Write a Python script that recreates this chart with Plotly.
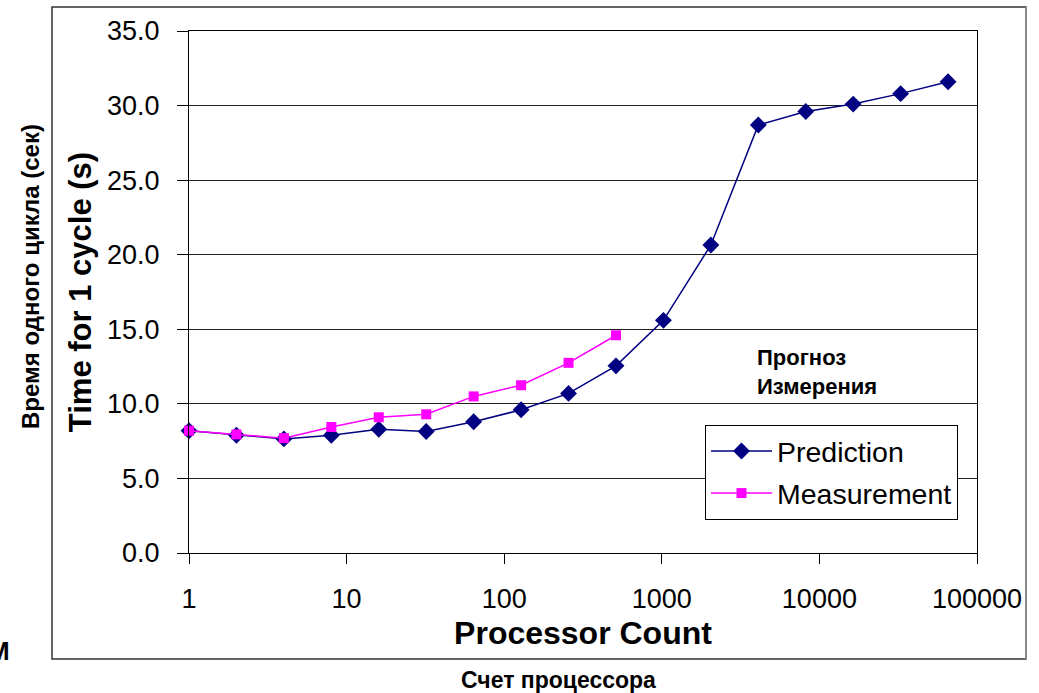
import plotly.graph_objects as go

# ---- data ----
processors = [1, 2, 4, 8, 16, 32, 64, 128, 256, 512, 1024, 2048, 4096, 8192, 16384, 32768, 65536]
prediction = [8.2, 7.9, 7.65, 7.9, 8.3, 8.15, 8.8, 9.6, 10.7, 12.55, 15.6, 20.65, 28.7, 29.6, 30.1, 30.8, 31.6]
meas_processors = [1, 2, 4, 8, 16, 32, 64, 128, 256, 512]
measurement = [8.2, 7.95, 7.7, 8.45, 9.1, 9.3, 10.5, 11.25, 12.75, 14.6]
x_tick_vals = [1, 10, 100, 1000, 10000, 100000]
x_tick_text = ["1", "10", "100", "1000", "10000", "100000"]
y_tick_vals = [0, 5, 10, 15, 20, 25, 30, 35]

FONT = "Arial, Liberation Sans, sans-serif"

fig = go.Figure()
fig.add_trace(go.Scatter(
    x=processors, y=prediction, name="Prediction", mode="lines+markers",
    legendgroup="pred",
    line=dict(color="#000080", width=1.5),
    marker=dict(symbol="diamond", size=13, color="#000080"),
    cliponaxis=False,
))
fig.add_trace(go.Scatter(
    x=meas_processors, y=measurement, name="Measurement", mode="lines+markers",
    legendgroup="meas",
    line=dict(color="#FF00FF", width=1.5),
    marker=dict(symbol="square", size=10, color="#FF00FF"),
    cliponaxis=False,
))

def xp(px):
    return (px - 189) / 788

def yp(py):
    return (553 - py) / 522

fig.update_layout(
    width=1039, height=693,
    margin=dict(l=189, r=62, t=31, b=140),
    paper_bgcolor="white", plot_bgcolor="white",
    font=dict(family=FONT, color="black"),
    showlegend=True,
    legend=dict(
        x=xp(705), y=yp(425), xanchor="left", yanchor="top",
        bgcolor="white", bordercolor="black", borderwidth=1,
        font=dict(size=28.5, family=FONT, color="black"),
        itemwidth=61, tracegroupgap=2,
    ),
    xaxis=dict(
        type="log", range=[0, 5],
        tickvals=x_tick_vals, ticktext=x_tick_text,
        ticks="outside", ticklen=10, tickcolor="black", tickwidth=1,
        tickfont=dict(size=27, family=FONT, color="black"),
        showline=True, linecolor="black", linewidth=1, mirror=True,
        showgrid=False, zeroline=False,
        ticklabelstandoff=12,
        title=dict(text="Processor Count", font=dict(size=32, family=FONT, weight="bold", color="black"), standoff=8),
    ),
    yaxis=dict(
        range=[0, 35], tickvals=y_tick_vals, tickformat=".1f",
        ticks="outside", ticklen=11, tickcolor="black", tickwidth=1,
        tickfont=dict(size=27, family=FONT, color="black"),
        showline=True, linecolor="black", linewidth=1, mirror=True,
        showgrid=True, gridcolor="#222222", gridwidth=1, zeroline=False,
        ticklabelstandoff=12,
        title=dict(text="Time for 1 cycle (s)", font=dict(size=31, family=FONT, weight="bold", color="black"), standoff=6),
    ),
    shapes=[
        dict(type="rect", xref="paper", yref="paper",
             x0=xp(52), x1=xp(1026), y0=yp(659), y1=yp(7),
             line=dict(color="#333333", width=1.5), layer="below"),
        dict(type="line", xref="paper", yref="paper",
             x0=xp(1026), x1=xp(1026), y0=yp(659), y1=yp(7),
             line=dict(color="#999999", width=1.5)),
    ],
    annotations=[
        dict(text="Время одного цикла (сек)", xref="paper", yref="paper",
             x=xp(30), y=yp(277), xanchor="center", yanchor="middle", textangle=-90,
             showarrow=False, font=dict(size=24, family=FONT, weight="bold", color="black")),
        dict(text="Счет процессора", xref="paper", yref="paper",
             x=xp(558), y=yp(680), xanchor="center", yanchor="middle",
             showarrow=False, font=dict(size=23, family=FONT, weight="bold", color="black")),
        dict(text="Прогноз<br>Измерения", xref="paper", yref="paper",
             x=xp(755), y=yp(372), xanchor="left", yanchor="middle", align="left",
             showarrow=False, font=dict(size=22, family=FONT, weight="bold", color="black")),
        dict(text="М", xref="paper", yref="paper",
             x=xp(12), y=yp(651), xanchor="right", yanchor="middle",
             showarrow=False, font=dict(size=26, family=FONT, weight="bold", color="black")),
    ],
)

fig.write_html(
    "out.html",
    config={"displayModeBar": False},
    post_script="document.body.style.margin='0px';document.body.style.overflow='hidden';",
)
